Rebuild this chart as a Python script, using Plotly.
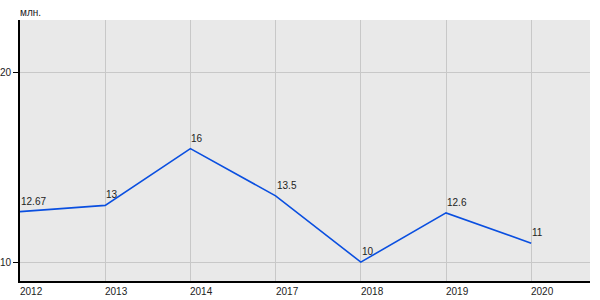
import plotly.graph_objects as go

categories = ["2012", "2013", "2014", "2017", "2018", "2019", "2020"]
values = [12.67, 13, 16, 13.5, 10, 12.6, 11]
labels = ["12.67", "13", "16", "13.5", "10", "12.6", "11"]
y_ticks = [10, 20]

xs = list(range(len(categories)))
FONT = dict(size=10, color="#222", family="Liberation Sans, Arial")

fig = go.Figure()
fig.add_trace(go.Scatter(
    x=xs, y=values, mode="lines",
    line=dict(color="#0a4fe0", width=1.6), hoverinfo="skip",
))

for i, (v, t) in enumerate(zip(values, labels)):
    fig.add_annotation(x=i, y=v, xref="x", yref="y", text=t, showarrow=False,
                       xanchor="left", yanchor="bottom", yshift=3, xshift=-1, font=FONT)

for i, c in enumerate(categories):
    fig.add_annotation(x=i, y=0, xref="x", yref="paper", text=c, showarrow=False,
                       xanchor="left", yanchor="top", yshift=-3, xshift=-2, font=FONT)

fig.add_annotation(x=0, y=1, xref="paper", yref="paper", text="млн.", showarrow=False,
                   xanchor="left", yanchor="bottom", yshift=0, xshift=-2, font=FONT)

fig.update_layout(
    width=600, height=300,
    margin=dict(l=20, r=10, t=20, b=19),
    paper_bgcolor="white", plot_bgcolor="#e9e9e9",
    showlegend=False,
    font=FONT,
    xaxis=dict(range=[0, 6.69], tickvals=xs, showticklabels=False, showgrid=True,
               gridcolor="#c8c8c8", gridwidth=1, zeroline=False, automargin=False,
               showline=True, linecolor="black", linewidth=2, ticks=""),
    yaxis=dict(range=[9, 22.8], tickvals=y_ticks, ticktext=[str(v) for v in y_ticks],
               showgrid=True, gridcolor="#c8c8c8", gridwidth=1, zeroline=False,
               automargin=False,
               showline=True, linecolor="black", linewidth=2,
               ticks="outside", ticklen=5, tickcolor="black", tickwidth=1),
)

fig.write_html("out.html")
